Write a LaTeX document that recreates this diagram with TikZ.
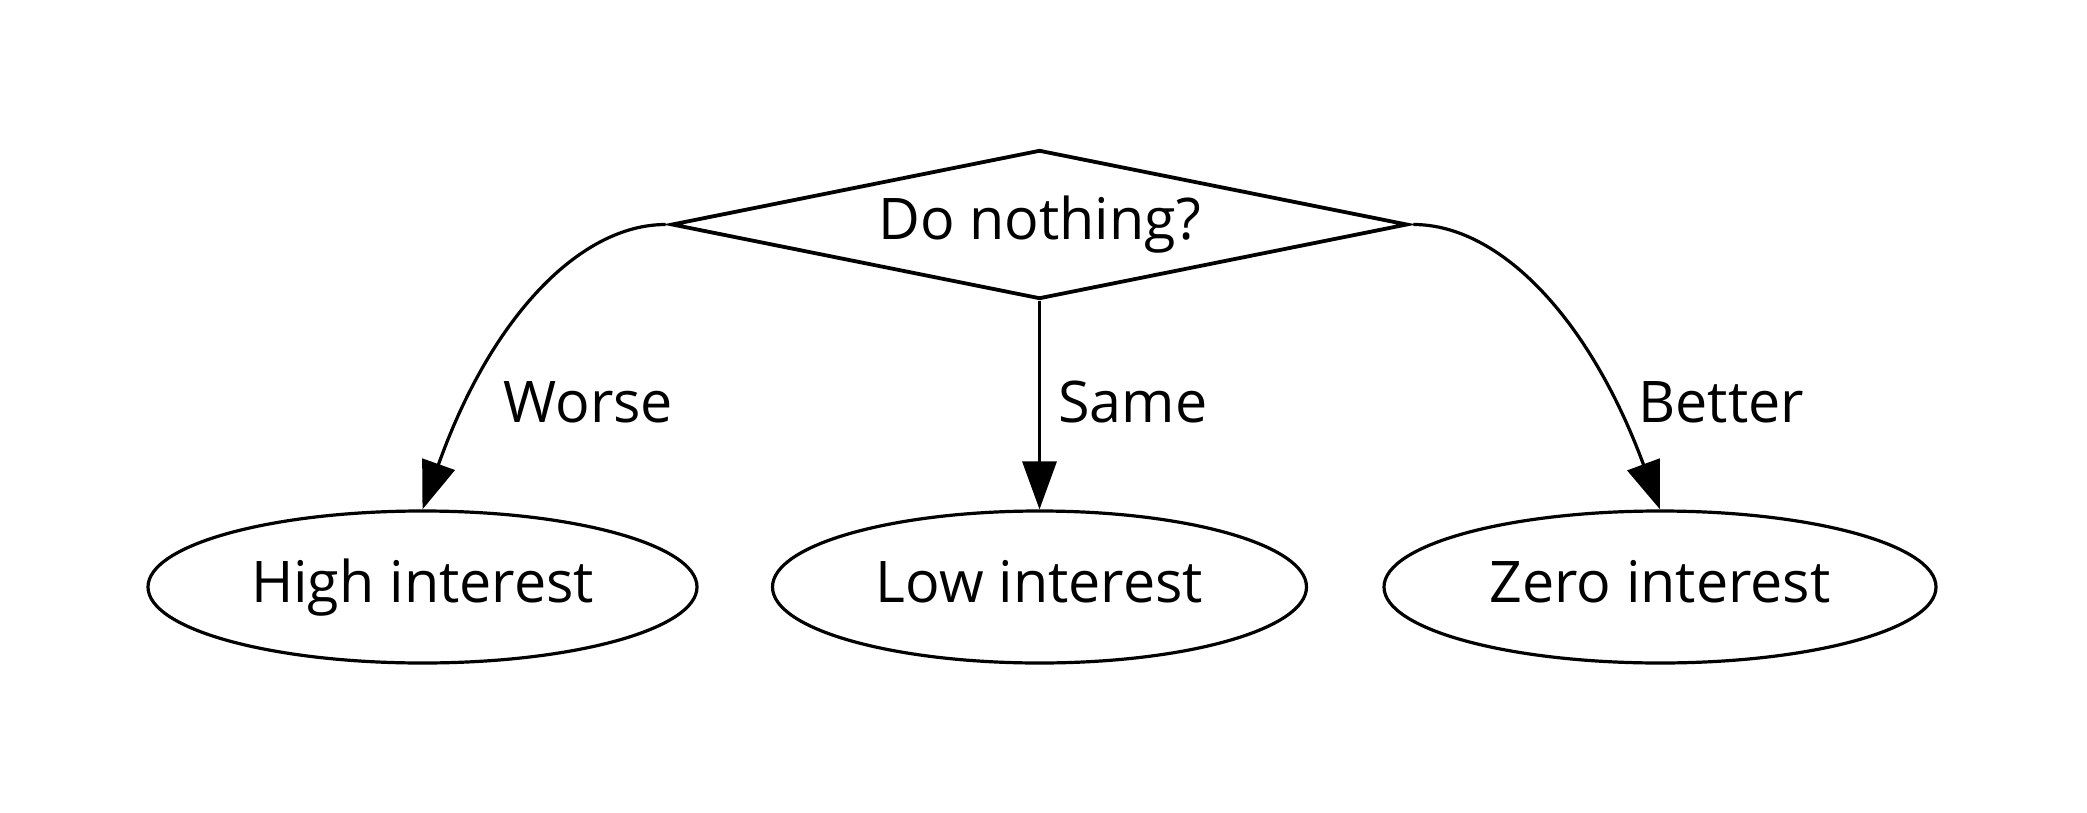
\documentclass[tikz,border=0pt]{standalone}
\usepackage{fontspec}
\setmainfont{Open Sans}
\usetikzlibrary{shapes.geometric,arrows.meta}
\begin{document}
\begin{tikzpicture}[x=0.5pt,y=-0.5pt,
  txt/.style={font=\fontsize{28.7pt}{34pt}\selectfont,text height=20.7pt,text depth=5.7pt,inner sep=0pt},
  decision/.style={txt,diamond,draw,line width=1.9pt,minimum width=368pt,minimum height=74.5pt,shape aspect=4.9},
  outcome/.style={txt,ellipse,draw,line width=1.6pt,minimum width=274.5pt,minimum height=76pt},
  edgelabel/.style={txt},
  conn/.style={line width=1.6pt,-{Triangle[length=24pt,width=17pt]}}]
\useasboundingbox (0,0) rectangle (2087,813);
\node[decision] (d) at (1039.5,224.5) {Do nothing?};
\node[outcome] (hi) at (422.5,587) {High interest};
\node[outcome,minimum width=267pt] (lo) at (1039.5,587) {Low interest};
\node[outcome,minimum width=276pt] (ze) at (1660,587) {Zero interest};
\coordinate (ls) at ([xshift=-2pt]d.west);
\coordinate (rs) at ([xshift=2pt]d.east);
\node[edgelabel,anchor=base west] (lw) at (503,422) {Worse};
\node[edgelabel,anchor=base west] (ls2) at (1058,422) {Same};
\node[edgelabel,anchor=base west] (lb) at (1638,422) {Better};
\draw[conn] (ls) .. controls (580,224.5) and (491,317) .. (hi.north);
\draw[conn] (d.south) -- (lo.north);
\draw[conn] (rs) .. controls (1499,224.5) and (1589,317) .. (ze.north);
\end{tikzpicture}
\end{document}
